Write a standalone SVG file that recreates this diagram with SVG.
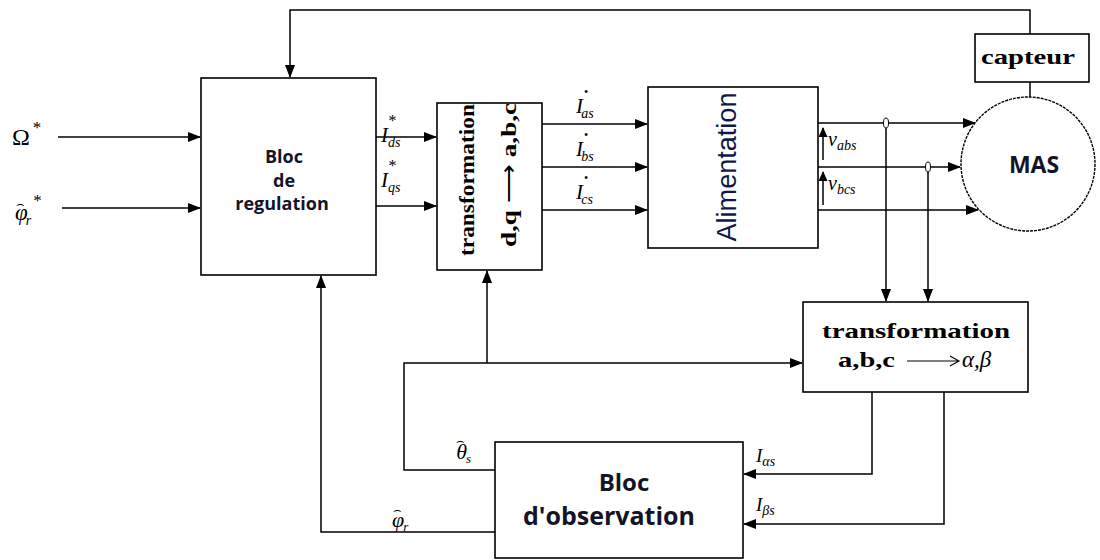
<svg xmlns="http://www.w3.org/2000/svg" width="1100" height="560" viewBox="0 0 1100 560">
<defs>
<marker id="ah" markerWidth="13" markerHeight="10" refX="12" refY="5" orient="auto" markerUnits="userSpaceOnUse">
<path d="M0,0 L13,5 L0,10 Z" fill="#000"/>
</marker>
<marker id="ahs" markerWidth="10" markerHeight="9" refX="9" refY="4.5" orient="auto" markerUnits="userSpaceOnUse">
<path d="M0,0 L10,4.5 L0,9 Z" fill="#000"/>
</marker>
</defs>
<style>
.box{fill:#fff;stroke:#000;stroke-width:1.6}
.ln{fill:none;stroke:#000;stroke-width:1.5}
.sans{font-family:"Open Sans","DejaVu Sans",sans-serif;font-weight:bold;fill:#141428}
.serb{font-family:"Liberation Serif",serif;font-weight:bold;fill:#000}
.math{font-family:"Liberation Serif",serif;font-style:italic;fill:#000}
.hat{font-family:"DejaVu Sans",sans-serif;font-style:normal}
</style>
<rect width="1100" height="560" fill="#fff"/>

<g id="connectors">
<path class="ln" d="M1030,34 V10 H290 V77" marker-end="url(#ah)"/>
<path class="ln" d="M1030,82 V98"/>
<path class="ln" d="M58,137 H200" marker-end="url(#ah)"/>
<path class="ln" d="M62,208 H200" marker-end="url(#ah)"/>
<path class="ln" d="M376,137 H436" marker-end="url(#ah)"/>
<path class="ln" d="M376,206 H436" marker-end="url(#ah)"/>
<path class="ln" d="M542,124 H647" marker-end="url(#ah)"/>
<path class="ln" d="M542,167 H647" marker-end="url(#ah)"/>
<path class="ln" d="M542,210 H647" marker-end="url(#ah)"/>
<path class="ln" d="M818,123 H975" marker-end="url(#ah)"/>
<path class="ln" d="M818,167 H960" marker-end="url(#ah)"/>
<path class="ln" d="M818,210 H978" marker-end="url(#ah)"/>
<path class="ln" d="M886,123 V301" marker-end="url(#ah)"/>
<path class="ln" d="M928,167 V301" marker-end="url(#ah)"/>
<ellipse cx="886" cy="123" rx="2.5" ry="5" fill="#fff" stroke="#000" stroke-width="1"/>
<ellipse cx="928" cy="167" rx="2.5" ry="5" fill="#fff" stroke="#000" stroke-width="1"/>
<path class="ln" d="M823,160 V128" marker-end="url(#ahs)"/>
<path class="ln" d="M823,205 V172" marker-end="url(#ahs)"/>
<path class="ln" d="M872,392 V474 H744" marker-end="url(#ah)"/>
<path class="ln" d="M944,392 V524 H744" marker-end="url(#ah)"/>
<path class="ln" d="M495,470 H404 V363 H802" marker-end="url(#ah)"/>
<path class="ln" d="M487,363 V271" marker-end="url(#ah)"/>
<path class="ln" d="M495,532 H321 V276" marker-end="url(#ah)"/>
</g>

<g id="regulation">
<rect class="box" x="201" y="78" width="175" height="197"/>
<text class="sans" x="284" y="163" font-size="18" text-anchor="middle">Bloc</text>
<text class="sans" x="284" y="187" font-size="18" text-anchor="middle">de</text>
<text class="sans" x="282" y="210" font-size="18" text-anchor="middle">regulation</text>
</g>

<g id="transfo-dq">
<rect class="box" x="437" y="103" width="105" height="167"/>
<text class="serb" font-size="21" text-anchor="middle" textLength="152" lengthAdjust="spacingAndGlyphs" transform="translate(474,180) rotate(-90)">transformation</text>
<text class="serb" font-size="22" text-anchor="middle" textLength="144" lengthAdjust="spacingAndGlyphs" transform="translate(516,175) rotate(-90)">d,q <tspan font-weight="normal">⟶</tspan> a,b,c</text>
</g>

<g id="alimentation">
<rect class="box" x="648" y="87" width="170" height="161"/>
<text font-family="Liberation Sans, Arial, sans-serif" font-size="27" fill="#10184a" text-anchor="middle" textLength="149" lengthAdjust="spacingAndGlyphs" transform="translate(736,167) rotate(-90)">Alimentation</text>
</g>

<g id="mas">
<circle cx="1028" cy="164" r="67" fill="#fff" stroke="#000" stroke-width="1.4" stroke-dasharray="3 1"/>
<text class="sans" x="1034" y="173" font-size="23" text-anchor="middle">MAS</text>
</g>

<g id="capteur">
<rect class="box" x="975" y="34" width="114" height="48"/>
<text class="serb" x="1028" y="64" font-size="21" text-anchor="middle" textLength="94" lengthAdjust="spacingAndGlyphs">capteur</text>
</g>

<g id="transfo-abc">
<rect class="box" x="803" y="302" width="225" height="90"/>
<text class="serb" x="916" y="338" font-size="22" text-anchor="middle" textLength="188" lengthAdjust="spacingAndGlyphs">transformation</text>
<text class="serb" x="838" y="367" font-size="22" textLength="57" lengthAdjust="spacingAndGlyphs">a,b,c</text>
<path d="M907,361 H959 M950,356 L959,361 L950,366" fill="none" stroke="#000" stroke-width="1.1"/>
<text class="math" x="962" y="367" font-size="23">α,β</text>
</g>

<g id="observation">
<rect class="box" x="495" y="442" width="248" height="116"/>
<text class="sans" x="624" y="491" font-size="24" text-anchor="middle">Bloc</text>
<text class="sans" x="609" y="525" font-size="25" text-anchor="middle">d'observation</text>
</g>

<g id="labels" class="math">
<text x="12" y="145" font-size="24" font-style="normal">Ω<tspan font-size="17" dx="3" dy="-12">*</tspan></text>
<text x="15" y="220" font-size="23">φ<tspan class="hat" font-size="13" dx="-12" dy="-12">⌢</tspan><tspan font-size="14" dx="1" dy="17">r</tspan><tspan font-size="17" font-style="normal" dx="2" dy="-19">*</tspan></text>
<text x="381" y="142" font-size="21">I<tspan font-size="14" dy="5">ds</tspan><tspan font-size="16" font-style="normal" dx="-12" dy="-21">*</tspan></text>
<text x="381" y="187" font-size="21">I<tspan font-size="14" dy="5">qs</tspan><tspan font-size="16" font-style="normal" dx="-12" dy="-21">*</tspan></text>
<text x="576" y="113" font-size="21">I<tspan font-size="12" font-style="normal" dx="1" dy="-17">•</tspan><tspan font-size="14" dx="-7" dy="22">as</tspan></text>
<text x="576" y="156" font-size="21">I<tspan font-size="12" font-style="normal" dx="1" dy="-17">•</tspan><tspan font-size="14" dx="-7" dy="22">bs</tspan></text>
<text x="576" y="199" font-size="21">I<tspan font-size="12" font-style="normal" dx="1" dy="-17">•</tspan><tspan font-size="14" dx="-7" dy="22">cs</tspan></text>
<text x="828" y="146" font-size="20">v<tspan font-size="14" dy="4">abs</tspan></text>
<text x="828" y="190" font-size="20">v<tspan font-size="14" dy="4">bcs</tspan></text>
<text x="756" y="462" font-size="19">I<tspan font-size="14" dy="4">αs</tspan></text>
<text x="756" y="511" font-size="19">I<tspan font-size="14" dy="4">βs</tspan></text>
<text x="456" y="459" font-size="22">θ<tspan class="hat" font-size="13" dx="-11" dy="-14">⌢</tspan><tspan font-size="13" dx="1" dy="18">s</tspan></text>
<text x="392" y="527" font-size="22">φ<tspan class="hat" font-size="13" dx="-11" dy="-13">⌢</tspan><tspan font-size="13" dx="1" dy="17">r</tspan></text>
</g>
</svg>
